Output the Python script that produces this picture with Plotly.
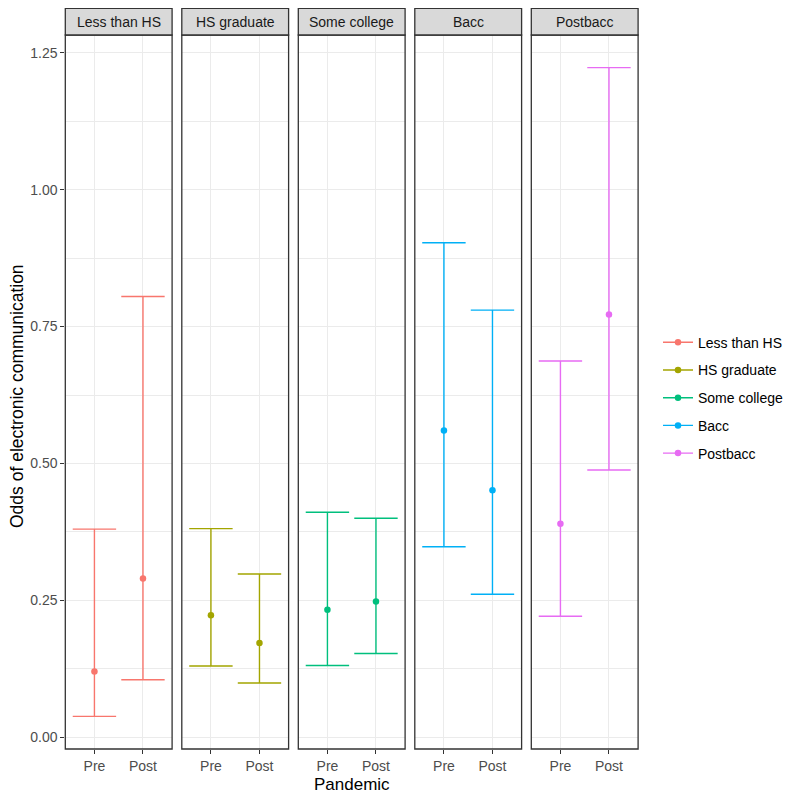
import plotly.graph_objects as go

groups = ["Less than HS", "HS graduate", "Some college", "Bacc", "Postbacc"]
periods = ["Pre", "Post"]
colors = ["#F8766D", "#A3A500", "#00BF7D", "#00B0F6", "#E76BF3"]

# odds estimate and 95% CI for [Pre, Post]
est = {
    "Less than HS": [0.120, 0.290],
    "HS graduate": [0.223, 0.172],
    "Some college": [0.233, 0.248],
    "Bacc": [0.560, 0.451],
    "Postbacc": [0.390, 0.772],
}
lower = {
    "Less than HS": [0.038, 0.105],
    "HS graduate": [0.130, 0.099],
    "Some college": [0.131, 0.153],
    "Bacc": [0.348, 0.261],
    "Postbacc": [0.221, 0.488],
}
upper = {
    "Less than HS": [0.380, 0.805],
    "HS graduate": [0.381, 0.298],
    "Some college": [0.411, 0.400],
    "Bacc": [0.903, 0.780],
    "Postbacc": [0.687, 1.223],
}
y_ticks = [0.0, 0.25, 0.5, 0.75, 1.0, 1.25]
y_ticklabels = ["0.00", "0.25", "0.50", "0.75", "1.00", "1.25"]

W = H = 800
OFF = 8.0  # page body margin


def px(x):
    return (x - OFF) / W


def py(y):
    return 1 - (y - OFF) / H


panel_left0 = 65.3
panel_w = 106.8
panel_step = 116.5
panel_top = 35.0
panel_bot = 749.0
strip_top = 8.3
FONT = "Liberation Sans, Arial"

fig = go.Figure()
grey20 = "#333333"

for i, g in enumerate(groups):
    ax = "" if i == 0 else str(i + 1)
    xa = "x" + ax
    ya = "y" + ax
    e = est[g]
    lo = lower[g]
    up = upper[g]
    fig.add_trace(go.Scatter(
        x=periods, y=e, mode="markers", xaxis=xa, yaxis=ya,
        marker=dict(color=colors[i], size=6.5),
        error_y=dict(type="data", symmetric=False,
                     array=[u - v for u, v in zip(up, e)],
                     arrayminus=[v - l for v, l in zip(e, lo)],
                     color=colors[i], thickness=1.4, width=21.7),
        showlegend=False, hoverinfo="x+y",
    ))
    # legend entry
    fig.add_trace(go.Scatter(
        x=[None], y=[None], mode="lines+markers", name=g, xaxis=xa, yaxis=ya,
        line=dict(color=colors[i], width=1.4), marker=dict(color=colors[i], size=6.5),
        legendgroup=g, showlegend=True,
    ))

    x0 = px(panel_left0 + i * panel_step)
    x1 = px(panel_left0 + i * panel_step + panel_w)
    xkey = "xaxis" + ax
    ykey = "yaxis" + ax
    fig.layout[xkey] = dict(
        domain=[x0, x1], anchor=ya, type="category", categoryorder="array",
        categoryarray=periods, range=[-0.6, 1.6],
        showgrid=True, gridcolor="#EBEBEB", gridwidth=1.3,
        zeroline=False, showline=False,
        ticks="outside", ticklen=4, tickcolor=grey20, tickwidth=1.2,
        tickfont=dict(family=FONT, size=14, color="#4D4D4D"),
        fixedrange=True,
    )
    fig.layout[ykey] = dict(
        domain=[py(panel_bot), py(panel_top)], anchor=xa,
        range=[-0.0215, 1.2825],
        tickvals=y_ticks, ticktext=y_ticklabels,
        showticklabels=(i == 0),
        ticks="outside" if i == 0 else "", ticklen=4, tickcolor=grey20, tickwidth=1.2,
        tickfont=dict(family=FONT, size=14, color="#4D4D4D"),
        showgrid=True, gridcolor="#EBEBEB", gridwidth=1.3,
        minor=dict(dtick=0.125, tick0=0.125, showgrid=True, gridcolor="#EBEBEB", gridwidth=0.7),
        zeroline=False, showline=False, fixedrange=True,
    )
    if i > 0:
        fig.layout[ykey]["matches"] = "y"

    # panel border
    fig.add_shape(type="rect", xref="paper", yref="paper",
                  x0=x0, x1=x1, y0=py(panel_bot), y1=py(panel_top),
                  line=dict(color=grey20, width=1.3), fillcolor="rgba(0,0,0,0)", layer="above")
    # strip
    fig.add_shape(type="rect", xref="paper", yref="paper",
                  x0=x0, x1=x1, y0=py(panel_top), y1=py(strip_top),
                  line=dict(color=grey20, width=1.3), fillcolor="#D9D9D9", layer="above")
    fig.add_annotation(text=g, xref="paper", yref="paper",
                       x=(x0 + x1) / 2, y=py((panel_top + strip_top) / 2),
                       xanchor="center", yanchor="middle", showarrow=False,
                       font=dict(family=FONT, size=14, color="#1A1A1A"))

# axis titles
fig.add_annotation(text="Pandemic", xref="paper", yref="paper",
                   x=px((panel_left0 + 4 * panel_step + panel_w + panel_left0) / 2),
                   y=py(784), xanchor="center", yanchor="middle", showarrow=False,
                   font=dict(family=FONT, size=17, color="black"))
fig.add_annotation(text="Odds of electronic communication", xref="paper", yref="paper",
                   x=px(17), y=py(396), textangle=-90,
                   xanchor="center", yanchor="middle", showarrow=False,
                   font=dict(family=FONT, size=17.5, color="black"))

fig.update_layout(
    width=W, height=H,
    margin=dict(l=0, r=0, t=0, b=0),
    paper_bgcolor="white", plot_bgcolor="white",
    legend=dict(x=px(658), y=py(397.7), xanchor="left", yanchor="middle",
                font=dict(family=FONT, size=14, color="black"),
                tracegroupgap=6.5, itemwidth=30, bgcolor="rgba(0,0,0,0)"),
    showlegend=True,
)

fig.write_html("out.html")
